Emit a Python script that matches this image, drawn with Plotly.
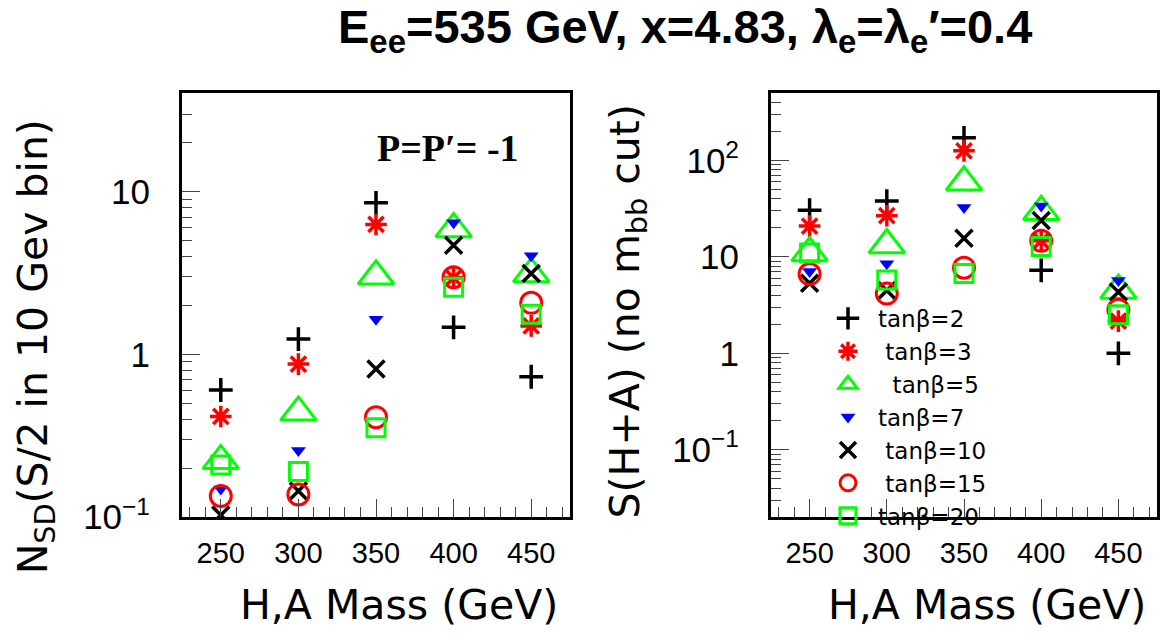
import plotly.graph_objects as go

# H,A masses (GeV)
masses = [250, 300, 350, 400, 450]

tanb_labels = ["tanβ=2", "\u00a0tanβ=3", "\u00a0\u00a0tanβ=5", "tanβ=7", "\u00a0tanβ=10", "\u00a0tanβ=15", "tanβ=20"]

# N_SD (S/sqrt(B) in 10 GeV bin), P=P'=-1
nsd_tb2 = [0.605, 1.245, 8.57, 1.47, 0.73]
nsd_tb3 = [0.416, 0.873, 6.31, 2.96, 1.50]
nsd_tb5 = [0.222, 0.441, 3.03, 5.92, 3.13]
nsd_tb7 = [0.149, 0.257, 1.65, 6.45, 4.05]
nsd_tb10 = [0.103, 0.145, 0.814, 4.69, 3.15]
nsd_tb15 = [0.135, 0.138, 0.412, 2.99, 2.08]
nsd_tb20 = [0.209, 0.191, 0.355, 2.59, 1.77]

# S(H+A), no m_bb cut
sig_tb2 = [30.5, 38.0, 172.0, 7.27, 1.0]
sig_tb3 = [20.9, 26.8, 126.0, 14.7, 2.16]
sig_tb5 = [11.0, 13.3, 59.6, 29.4, 4.5]
sig_tb7 = [7.05, 8.5, 32.5, 33.8, 5.7]
sig_tb10 = [5.33, 4.5, 15.6, 23.9, 4.33]
sig_tb15 = [6.64, 4.17, 7.74, 14.7, 2.83]
sig_tb20 = [11.0, 5.77, 6.73, 12.8, 2.52]

nsd_series = [nsd_tb2, nsd_tb3, nsd_tb5, nsd_tb7, nsd_tb10, nsd_tb15, nsd_tb20]
sig_series = [sig_tb2, sig_tb3, sig_tb5, sig_tb7, sig_tb10, sig_tb15, sig_tb20]

# axis ticks
x_major = [250, 300, 350, 400, 450]
x_minor = list(range(230, 480, 10))
left_y_major = [0.1, 1, 10]
left_y_text = ["10<sup>−1</sup>", "1", "10"]
right_y_major = [0.1, 1, 10, 100]
right_y_text = ["10<sup>−1</sup>", "1", "10", "10<sup>2</sup>"]
log_minor = [m * 10 ** e for e in range(-2, 3) for m in range(2, 10)]

# marker style per tanβ value
styles = [
    dict(symbol="cross-thin-open", size=17, color="black", line=dict(width=3.5, color="black")),
    dict(symbol="asterisk-open", size=18, color="red", line=dict(width=3.5, color="red")),
    dict(symbol="triangle-up-open", size=31, color="#00ff00", line=dict(width=3, color="#00ff00")),
    dict(symbol="triangle-down", size=13, color="blue", line=dict(width=0)),
    dict(symbol="x-thin-open", size=17, color="black", line=dict(width=3.5, color="black")),
    dict(symbol="circle-open", size=21, color="red", line=dict(width=3, color="red")),
    dict(symbol="square-open", size=18, color="#00ff00", line=dict(width=3, color="#00ff00")),
]

W, H = 1162, 640
fig = go.Figure()

for name, ys, st in zip(tanb_labels, nsd_series, styles):
    fig.add_trace(go.Scatter(x=masses, y=ys, mode="markers", marker=st, name=name,
                             showlegend=False, xaxis="x", yaxis="y"))
for name, ys, st in zip(tanb_labels, sig_series, styles):
    fig.add_trace(go.Scatter(x=masses, y=ys, mode="markers", marker=st, name=name,
                             showlegend=True, xaxis="x2", yaxis="y2"))

tick_font_x = dict(family="Liberation Sans, Arial, sans-serif", size=29, color="black")
tick_font_y = dict(family="Liberation Sans, Arial, sans-serif", size=35, color="black")
minor_x = dict(tickmode="array", tickvals=x_minor, ticks="inside", ticklen=10,
               tickwidth=1, tickcolor="#444", showgrid=False)
minor_y = dict(tickmode="array", tickvals=log_minor, ticks="inside", ticklen=10,
               tickwidth=1, tickcolor="#444", showgrid=False)

ydom = [(H - 533) / H, (H - 96) / H]

common_x = dict(range=[225, 475], tickmode="array", tickvals=x_major, ticks="inside",
                ticklen=18, tickwidth=1, tickcolor="#444", showline=True, linewidth=3,
                linecolor="black", mirror=True, showgrid=False, zeroline=False,
                tickfont=tick_font_x, minor=minor_x, ticklabelstandoff=8)
common_y = dict(type="log", tickmode="array", ticks="inside", ticklen=18, tickwidth=1,
                tickcolor="#444", showline=True, linewidth=3, linecolor="black",
                mirror=True, showgrid=False, zeroline=False, tickfont=tick_font_y,
                minor=minor_y, ticklabelstandoff=22)

fig.update_layout(
    width=W, height=H,
    margin=dict(l=0, r=0, t=0, b=0),
    paper_bgcolor="white", plot_bgcolor="white",
    xaxis=dict(domain=[182 / W, 570 / W], anchor="y", **common_x),
    yaxis=dict(domain=ydom, anchor="x", range=[-1, 1.607],
               tickvals=left_y_major, ticktext=left_y_text, **common_y),
    xaxis2=dict(domain=[771 / W, 1157 / W], anchor="y2", **common_x),
    yaxis2=dict(domain=ydom, anchor="x2", range=[-1.699, 2.699],
                tickvals=right_y_major, ticktext=right_y_text, **common_y),
    legend=dict(x=818 / W, y=1 - 306 / H, xanchor="left", yanchor="top",
                bgcolor="rgba(0,0,0,0)", itemsizing="trace", itemwidth=50,
                font=dict(family="DejaVu Sans, sans-serif", size=23, color="black"),
                tracegroupgap=0),
    showlegend=True,
)

title_font = dict(family="Liberation Sans, Arial, sans-serif", size=47, color="black")
axis_title_font = dict(family="DejaVu Sans, sans-serif", size=41, color="black")

annotations = [
    dict(text="<b>E<sub>ee</sub>=535 GeV, x=4.83, λ<sub>e</sub>=λ<sub>e</sub>′=0.4</b>",
         x=685 / W, y=1 - 31 / H, xanchor="center", yanchor="middle", font=title_font),
    dict(text="<b>P=P′= -1</b>", x=448 / W, y=1 - 153 / H, xanchor="center", yanchor="middle",
         font=dict(family="Liberation Serif, Times New Roman, serif", size=38, color="black")),
    dict(text="H,A Mass (GeV)", x=560 / W, y=1 - 623 / H, xanchor="right", yanchor="middle",
         font=axis_title_font),
    dict(text="H,A Mass (GeV)", x=1148 / W, y=1 - 623 / H, xanchor="right", yanchor="middle",
         font=axis_title_font),
    dict(text="N<sub>SD</sub>(S/2 in 10 Gev bin)", x=36 / W, y=1 - 358 / H, textangle=-90,
         xanchor="center", yanchor="middle", font=axis_title_font),
    dict(text="S(H+A) (no m<sub>bb</sub> cut)", x=628 / W, y=1 - 321 / H, textangle=-90,
         xanchor="center", yanchor="middle", font=axis_title_font),
]
for a in annotations:
    fig.add_annotation(xref="paper", yref="paper", showarrow=False, **a)

fig.write_html("out.html")
